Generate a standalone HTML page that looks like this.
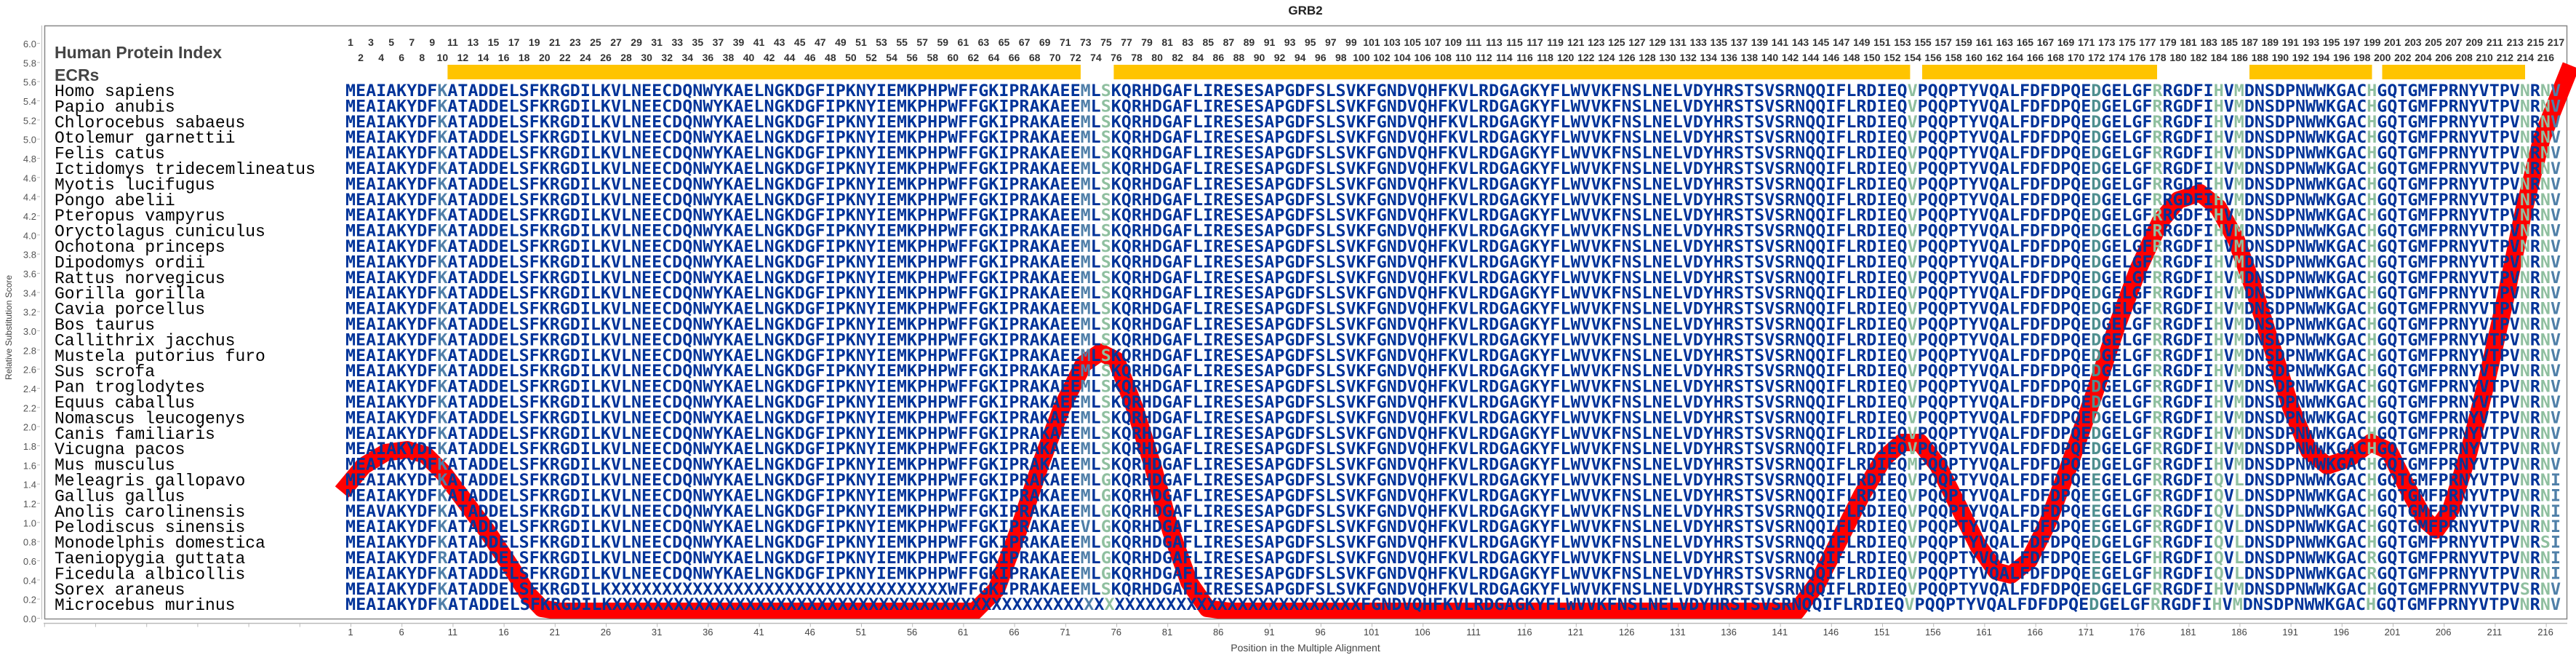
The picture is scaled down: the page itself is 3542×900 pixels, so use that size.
<!DOCTYPE html>
<html><head><meta charset="utf-8"><style>
body{margin:0;width:3542px;height:900px;background:#fff;overflow:hidden;position:relative;font-family:"Liberation Sans",sans-serif}
svg{position:absolute;left:0;top:0}
.nums{position:absolute;display:flex;font:bold 14px "Liberation Sans",sans-serif;color:#333;white-space:nowrap}
.nums span{width:28.08px;text-align:center;flex:none}
.xl{position:absolute;top:861px;left:446.9px;display:flex;font:13px "Liberation Sans",sans-serif;color:#444}
.xl span{width:70.2px;text-align:center;flex:none}
.seq{font-family:"DejaVu Sans Mono","Liberation Mono",monospace;font-weight:bold;font-size:22px;fill:#003399}
.a{fill:#4f7fa8}.b{fill:#8fbf9f}.c{fill:#4f8f8f}
.sp{font-family:"Liberation Mono",monospace;font-size:23px;fill:#000}
.yt{font-size:13px;fill:#555;text-anchor:end}
</style></head><body>
<svg width="3542" height="900" xmlns="http://www.w3.org/2000/svg">
<text x="1795" y="20" font-size="17" font-weight="bold" text-anchor="middle" fill="#222">GRB2</text>
<rect x="61.5" y="35.5" width="3468" height="815" fill="none" stroke="#888" stroke-width="1.5"/>
<line x1="57.5" y1="35" x2="57.5" y2="851" stroke="#bbb" stroke-width="1"/>
<line x1="53" y1="850" x2="53" y2="59" stroke="#bbb" stroke-width="4" stroke-dasharray="1 25.333"/>
<line x1="60" y1="856.5" x2="3530" y2="856.5" stroke="#bbb" stroke-width="1.5"/>
<line x1="60.8" y1="859" x2="3530" y2="859" stroke="#bbb" stroke-width="5" stroke-dasharray="1 69.2"/>
<g class="yt">
<text x="50" y="855">0.0</text><text x="50" y="828.7">0.2</text><text x="50" y="802.3">0.4</text><text x="50" y="776">0.6</text><text x="50" y="749.7">0.8</text><text x="50" y="723.3">1.0</text><text x="50" y="697">1.2</text><text x="50" y="670.7">1.4</text><text x="50" y="644.3">1.6</text><text x="50" y="618">1.8</text><text x="50" y="591.7">2.0</text><text x="50" y="565.3">2.2</text><text x="50" y="539">2.4</text><text x="50" y="512.7">2.6</text><text x="50" y="486.3">2.8</text><text x="50" y="460">3.0</text><text x="50" y="433.7">3.2</text><text x="50" y="407.3">3.4</text><text x="50" y="381">3.6</text><text x="50" y="354.7">3.8</text><text x="50" y="328.3">4.0</text><text x="50" y="302">4.2</text><text x="50" y="275.7">4.4</text><text x="50" y="249.3">4.6</text><text x="50" y="223">4.8</text><text x="50" y="196.7">5.0</text><text x="50" y="170.3">5.2</text><text x="50" y="144">5.4</text><text x="50" y="117.7">5.6</text><text x="50" y="91.3">5.8</text><text x="50" y="65">6.0</text>
</g>
<text transform="translate(16,450) rotate(-90)" font-size="12" fill="#444" text-anchor="middle">Relative Substitution Score</text>
<text x="1795" y="895" font-size="14" fill="#444" text-anchor="middle">Position in the Multiple Alignment</text>
<text x="75" y="80" font-size="23" font-weight="bold" fill="#444">Human Protein Index</text>
<text x="75" y="111" font-size="23" font-weight="bold" fill="#444">ECRs</text>
<g fill="#ffc400">
<rect x="615.4" y="89" width="870.5" height="20"/>
<rect x="1531.4" y="89" width="1095" height="20"/>
<rect x="2643" y="89" width="323" height="20"/>
<rect x="3093" y="89" width="168.5" height="20"/>
<rect x="3275.5" y="89" width="196.5" height="20"/>
</g>
<defs><clipPath id="cp"><rect x="62" y="36" width="3480" height="814"/></clipPath></defs>
<polyline clip-path="url(#cp)" fill="none" stroke="#ff0000" stroke-width="24" stroke-linejoin="round" points="470,676 500,640 530,622 560,618 585,625 610,650 640,690 670,730 700,775 725,815 745,836 770,840 1340,840 1370,810 1400,730 1430,640 1460,560 1490,500 1513,484 1535,495 1560,560 1585,640 1610,730 1635,800 1660,836 1690,840 2470,840 2500,800 2530,740 2560,680 2590,630 2615,608 2640,608 2665,640 2690,690 2720,750 2745,785 2765,790 2790,770 2815,720 2845,640 2880,540 2910,450 2940,370 2970,305 2995,275 3025,265 3050,285 3075,330 3100,400 3125,480 3150,560 3175,620 3200,640 3230,630 3260,608 3285,620 3310,670 3335,715 3350,728 3370,700 3395,620 3420,520 3445,410 3470,290 3495,190 3535,90"/>
<g class="sp">
<text x="75" y="132">Homo sapiens</text><text x="75" y="153.4">Papio anubis</text><text x="75" y="174.8">Chlorocebus sabaeus</text><text x="75" y="196.2">Otolemur garnettii</text><text x="75" y="217.6">Felis catus</text><text x="75" y="239">Ictidomys tridecemlineatus</text><text x="75" y="260.4">Myotis lucifugus</text><text x="75" y="281.8">Pongo abelii</text><text x="75" y="303.2">Pteropus vampyrus</text><text x="75" y="324.6">Oryctolagus cuniculus</text><text x="75" y="346">Ochotona princeps</text><text x="75" y="367.4">Dipodomys ordii</text><text x="75" y="388.8">Rattus norvegicus</text><text x="75" y="410.2">Gorilla gorilla</text><text x="75" y="431.6">Cavia porcellus</text><text x="75" y="453">Bos taurus</text><text x="75" y="474.4">Callithrix jacchus</text><text x="75" y="495.8">Mustela putorius furo</text><text x="75" y="517.2">Sus scrofa</text><text x="75" y="538.6">Pan troglodytes</text><text x="75" y="560">Equus caballus</text><text x="75" y="581.4">Nomascus leucogenys</text><text x="75" y="602.8">Canis familiaris</text><text x="75" y="624.2">Vicugna pacos</text><text x="75" y="645.6">Mus musculus</text><text x="75" y="667">Meleagris gallopavo</text><text x="75" y="688.4">Gallus gallus</text><text x="75" y="709.8">Anolis carolinensis</text><text x="75" y="731.2">Pelodiscus sinensis</text><text x="75" y="752.6">Monodelphis domestica</text><text x="75" y="774">Taeniopygia guttata</text><text x="75" y="795.4">Ficedula albicollis</text><text x="75" y="816.8">Sorex araneus</text><text x="75" y="838.2">Microcebus murinus</text>
</g>
<g class="seq">
<text x="475" y="132" textLength="3046" lengthAdjust="spacingAndGlyphs">MEAIAKYDF<tspan class="a">K</tspan>ATADDELSFKRGDILKVLNEECDQNWYKAELNGKDGFIPKNYIEMKPHPWFFGKIPRAKAEE<tspan class="a">M</tspan>L<tspan class="b">S</tspan>KQRHDGAFLIRESESAPGDFSLSVKFGNDVQHFKVLRDGAGKYFLWVVKFNSLNELVDYHRSTSVSRNQQIFLRDIEQ<tspan class="b">V</tspan>PQQPTYVQALFDFDPQE<tspan class="c">D</tspan>GELGF<tspan class="b">R</tspan>RGDFI<tspan class="b">H</tspan>V<tspan class="b">M</tspan>DNSDPNWWKGAC<tspan class="b">H</tspan>GQTGMFPRNYVTPV<tspan class="b">N</tspan>R<tspan class="b">N</tspan><tspan class="a">V</tspan></text>
<text x="475" y="153.4" textLength="3046" lengthAdjust="spacingAndGlyphs">MEAIAKYDF<tspan class="a">K</tspan>ATADDELSFKRGDILKVLNEECDQNWYKAELNGKDGFIPKNYIEMKPHPWFFGKIPRAKAEE<tspan class="a">M</tspan>L<tspan class="b">S</tspan>KQRHDGAFLIRESESAPGDFSLSVKFGNDVQHFKVLRDGAGKYFLWVVKFNSLNELVDYHRSTSVSRNQQIFLRDIEQ<tspan class="b">V</tspan>PQQPTYVQALFDFDPQE<tspan class="c">D</tspan>GELGF<tspan class="b">R</tspan>RGDFI<tspan class="b">H</tspan>V<tspan class="b">M</tspan>DNSDPNWWKGAC<tspan class="b">H</tspan>GQTGMFPRNYVTPV<tspan class="b">N</tspan>R<tspan class="b">N</tspan><tspan class="a">V</tspan></text>
<text x="475" y="174.8" textLength="3046" lengthAdjust="spacingAndGlyphs">MEAIAKYDF<tspan class="a">K</tspan>ATADDELSFKRGDILKVLNEECDQNWYKAELNGKDGFIPKNYIEMKPHPWFFGKIPRAKAEE<tspan class="a">M</tspan>L<tspan class="b">S</tspan>KQRHDGAFLIRESESAPGDFSLSVKFGNDVQHFKVLRDGAGKYFLWVVKFNSLNELVDYHRSTSVSRNQQIFLRDIEQ<tspan class="b">V</tspan>PQQPTYVQALFDFDPQE<tspan class="c">D</tspan>GELGF<tspan class="b">R</tspan>RGDFI<tspan class="b">H</tspan>V<tspan class="b">M</tspan>DNSDPNWWKGAC<tspan class="b">H</tspan>GQTGMFPRNYVTPV<tspan class="b">N</tspan>R<tspan class="b">N</tspan><tspan class="a">V</tspan></text>
<text x="475" y="196.2" textLength="3046" lengthAdjust="spacingAndGlyphs">MEAIAKYDF<tspan class="a">K</tspan>ATADDELSFKRGDILKVLNEECDQNWYKAELNGKDGFIPKNYIEMKPHPWFFGKIPRAKAEE<tspan class="a">M</tspan>L<tspan class="b">S</tspan>KQRHDGAFLIRESESAPGDFSLSVKFGNDVQHFKVLRDGAGKYFLWVVKFNSLNELVDYHRSTSVSRNQQIFLRDIEQ<tspan class="b">V</tspan>PQQPTYVQALFDFDPQE<tspan class="c">D</tspan>GELGF<tspan class="b">R</tspan>RGDFI<tspan class="b">H</tspan>V<tspan class="b">M</tspan>DNSDPNWWKGAC<tspan class="b">H</tspan>GQTGMFPRNYVTPV<tspan class="b">N</tspan>R<tspan class="b">N</tspan><tspan class="a">V</tspan></text>
<text x="475" y="217.6" textLength="3046" lengthAdjust="spacingAndGlyphs">MEAIAKYDF<tspan class="a">K</tspan>ATADDELSFKRGDILKVLNEECDQNWYKAELNGKDGFIPKNYIEMKPHPWFFGKIPRAKAEE<tspan class="a">M</tspan>L<tspan class="b">S</tspan>KQRHDGAFLIRESESAPGDFSLSVKFGNDVQHFKVLRDGAGKYFLWVVKFNSLNELVDYHRSTSVSRNQQIFLRDIEQ<tspan class="b">V</tspan>PQQPTYVQALFDFDPQE<tspan class="c">D</tspan>GELGF<tspan class="b">R</tspan>RGDFI<tspan class="b">H</tspan>V<tspan class="b">M</tspan>DNSDPNWWKGAC<tspan class="b">H</tspan>GQTGMFPRNYVTPV<tspan class="b">N</tspan>R<tspan class="b">N</tspan><tspan class="a">V</tspan></text>
<text x="475" y="239" textLength="3046" lengthAdjust="spacingAndGlyphs">MEAIAKYDF<tspan class="a">K</tspan>ATADDELSFKRGDILKVLNEECDQNWYKAELNGKDGFIPKNYIEMKPHPWFFGKIPRAKAEE<tspan class="a">M</tspan>L<tspan class="b">S</tspan>KQRHDGAFLIRESESAPGDFSLSVKFGNDVQHFKVLRDGAGKYFLWVVKFNSLNELVDYHRSTSVSRNQQIFLRDIEQ<tspan class="b">V</tspan>PQQPTYVQALFDFDPQE<tspan class="c">D</tspan>GELGF<tspan class="b">R</tspan>RGDFI<tspan class="b">H</tspan>V<tspan class="b">M</tspan>DNSDPNWWKGAC<tspan class="b">H</tspan>GQTGMFPRNYVTPV<tspan class="b">N</tspan>R<tspan class="b">N</tspan><tspan class="a">V</tspan></text>
<text x="475" y="260.4" textLength="3046" lengthAdjust="spacingAndGlyphs">MEAIAKYDF<tspan class="a">K</tspan>ATADDELSFKRGDILKVLNEECDQNWYKAELNGKDGFIPKNYIEMKPHPWFFGKIPRAKAEE<tspan class="a">M</tspan>L<tspan class="b">S</tspan>KQRHDGAFLIRESESAPGDFSLSVKFGNDVQHFKVLRDGAGKYFLWVVKFNSLNELVDYHRSTSVSRNQQIFLRDIEQ<tspan class="b">V</tspan>PQQPTYVQALFDFDPQE<tspan class="c">D</tspan>GELGF<tspan class="b">R</tspan>RGDFI<tspan class="b">H</tspan>V<tspan class="b">M</tspan>DNSDPNWWKGAC<tspan class="b">H</tspan>GQTGMFPRNYVTPV<tspan class="b">N</tspan>R<tspan class="b">N</tspan><tspan class="a">V</tspan></text>
<text x="475" y="281.8" textLength="3046" lengthAdjust="spacingAndGlyphs">MEAIAKYDF<tspan class="a">K</tspan>ATADDELSFKRGDILKVLNEECDQNWYKAELNGKDGFIPKNYIEMKPHPWFFGKIPRAKAEE<tspan class="a">M</tspan>L<tspan class="b">S</tspan>KQRHDGAFLIRESESAPGDFSLSVKFGNDVQHFKVLRDGAGKYFLWVVKFNSLNELVDYHRSTSVSRNQQIFLRDIEQ<tspan class="b">V</tspan>PQQPTYVQALFDFDPQE<tspan class="c">D</tspan>GELGF<tspan class="b">R</tspan>RGDFI<tspan class="b">H</tspan>V<tspan class="b">M</tspan>DNSDPNWWKGAC<tspan class="b">H</tspan>GQTGMFPRNYVTPV<tspan class="b">N</tspan>R<tspan class="b">N</tspan><tspan class="a">V</tspan></text>
<text x="475" y="303.2" textLength="3046" lengthAdjust="spacingAndGlyphs">MEAIAKYDF<tspan class="a">K</tspan>ATADDELSFKRGDILKVLNEECDQNWYKAELNGKDGFIPKNYIEMKPHPWFFGKIPRAKAEE<tspan class="a">M</tspan>L<tspan class="b">S</tspan>KQRHDGAFLIRESESAPGDFSLSVKFGNDVQHFKVLRDGAGKYFLWVVKFNSLNELVDYHRSTSVSRNQQIFLRDIEQ<tspan class="b">V</tspan>PQQPTYVQALFDFDPQE<tspan class="c">D</tspan>GELGF<tspan class="b">R</tspan>RGDFI<tspan class="b">H</tspan>V<tspan class="b">M</tspan>DNSDPNWWKGAC<tspan class="b">H</tspan>GQTGMFPRNYVTPV<tspan class="b">N</tspan>R<tspan class="b">N</tspan><tspan class="a">V</tspan></text>
<text x="475" y="324.6" textLength="3046" lengthAdjust="spacingAndGlyphs">MEAIAKYDF<tspan class="a">K</tspan>ATADDELSFKRGDILKVLNEECDQNWYKAELNGKDGFIPKNYIEMKPHPWFFGKIPRAKAEE<tspan class="a">M</tspan>L<tspan class="b">S</tspan>KQRHDGAFLIRESESAPGDFSLSVKFGNDVQHFKVLRDGAGKYFLWVVKFNSLNELVDYHRSTSVSRNQQIFLRDIEQ<tspan class="b">V</tspan>PQQPTYVQALFDFDPQE<tspan class="c">D</tspan>GELGF<tspan class="b">R</tspan>RGDFI<tspan class="b">H</tspan>V<tspan class="b">M</tspan>DNSDPNWWKGAC<tspan class="b">H</tspan>GQTGMFPRNYVTPV<tspan class="b">N</tspan>R<tspan class="b">N</tspan><tspan class="a">V</tspan></text>
<text x="475" y="346" textLength="3046" lengthAdjust="spacingAndGlyphs">MEAIAKYDF<tspan class="a">K</tspan>ATADDELSFKRGDILKVLNEECDQNWYKAELNGKDGFIPKNYIEMKPHPWFFGKIPRAKAEE<tspan class="a">M</tspan>L<tspan class="b">S</tspan>KQRHDGAFLIRESESAPGDFSLSVKFGNDVQHFKVLRDGAGKYFLWVVKFNSLNELVDYHRSTSVSRNQQIFLRDIEQ<tspan class="b">V</tspan>PQQPTYVQALFDFDPQE<tspan class="c">D</tspan>GELGF<tspan class="b">R</tspan>RGDFI<tspan class="b">H</tspan>V<tspan class="b">M</tspan>DNSDPNWWKGAC<tspan class="b">H</tspan>GQTGMFPRNYVTPV<tspan class="b">N</tspan>R<tspan class="b">N</tspan><tspan class="a">V</tspan></text>
<text x="475" y="367.4" textLength="3046" lengthAdjust="spacingAndGlyphs">MEAIAKYDF<tspan class="a">K</tspan>ATADDELSFKRGDILKVLNEECDQNWYKAELNGKDGFIPKNYIEMKPHPWFFGKIPRAKAEE<tspan class="a">M</tspan>L<tspan class="b">S</tspan>KQRHDGAFLIRESESAPGDFSLSVKFGNDVQHFKVLRDGAGKYFLWVVKFNSLNELVDYHRSTSVSRNQQIFLRDIEQ<tspan class="b">V</tspan>PQQPTYVQALFDFDPQE<tspan class="c">D</tspan>GELGF<tspan class="b">R</tspan>RGDFI<tspan class="b">H</tspan>V<tspan class="b">M</tspan>DNSDPNWWKGAC<tspan class="b">H</tspan>GQTGMFPRNYVTPV<tspan class="b">N</tspan>R<tspan class="b">N</tspan><tspan class="a">V</tspan></text>
<text x="475" y="388.8" textLength="3046" lengthAdjust="spacingAndGlyphs">MEAIAKYDF<tspan class="a">K</tspan>ATADDELSFKRGDILKVLNEECDQNWYKAELNGKDGFIPKNYIEMKPHPWFFGKIPRAKAEE<tspan class="a">M</tspan>L<tspan class="b">S</tspan>KQRHDGAFLIRESESAPGDFSLSVKFGNDVQHFKVLRDGAGKYFLWVVKFNSLNELVDYHRSTSVSRNQQIFLRDIEQ<tspan class="b">V</tspan>PQQPTYVQALFDFDPQE<tspan class="c">D</tspan>GELGF<tspan class="b">R</tspan>RGDFI<tspan class="b">H</tspan>V<tspan class="b">M</tspan>DNSDPNWWKGAC<tspan class="b">H</tspan>GQTGMFPRNYVTPV<tspan class="b">N</tspan>R<tspan class="b">N</tspan><tspan class="a">V</tspan></text>
<text x="475" y="410.2" textLength="3046" lengthAdjust="spacingAndGlyphs">MEAIAKYDF<tspan class="a">K</tspan>ATADDELSFKRGDILKVLNEECDQNWYKAELNGKDGFIPKNYIEMKPHPWFFGKIPRAKAEE<tspan class="a">M</tspan>L<tspan class="b">S</tspan>KQRHDGAFLIRESESAPGDFSLSVKFGNDVQHFKVLRDGAGKYFLWVVKFNSLNELVDYHRSTSVSRNQQIFLRDIEQ<tspan class="b">V</tspan>PQQPTYVQALFDFDPQE<tspan class="c">D</tspan>GELGF<tspan class="b">R</tspan>RGDFI<tspan class="b">H</tspan>V<tspan class="b">M</tspan>DNSDPNWWKGAC<tspan class="b">H</tspan>GQTGMFPRNYVTPV<tspan class="b">N</tspan>R<tspan class="b">N</tspan><tspan class="a">V</tspan></text>
<text x="475" y="431.6" textLength="3046" lengthAdjust="spacingAndGlyphs">MEAIAKYDF<tspan class="a">K</tspan>ATADDELSFKRGDILKVLNEECDQNWYKAELNGKDGFIPKNYIEMKPHPWFFGKIPRAKAEE<tspan class="a">M</tspan>L<tspan class="b">S</tspan>KQRHDGAFLIRESESAPGDFSLSVKFGNDVQHFKVLRDGAGKYFLWVVKFNSLNELVDYHRSTSVSRNQQIFLRDIEQ<tspan class="b">V</tspan>PQQPTYVQALFDFDPQE<tspan class="c">D</tspan>GELGF<tspan class="b">R</tspan>RGDFI<tspan class="b">H</tspan>V<tspan class="b">M</tspan>DNSDPNWWKGAC<tspan class="b">H</tspan>GQTGMFPRNYVTPV<tspan class="b">N</tspan>R<tspan class="b">N</tspan><tspan class="a">V</tspan></text>
<text x="475" y="453" textLength="3046" lengthAdjust="spacingAndGlyphs">MEAIAKYDF<tspan class="a">K</tspan>ATADDELSFKRGDILKVLNEECDQNWYKAELNGKDGFIPKNYIEMKPHPWFFGKIPRAKAEE<tspan class="a">M</tspan>L<tspan class="b">S</tspan>KQRHDGAFLIRESESAPGDFSLSVKFGNDVQHFKVLRDGAGKYFLWVVKFNSLNELVDYHRSTSVSRNQQIFLRDIEQ<tspan class="b">V</tspan>PQQPTYVQALFDFDPQE<tspan class="c">D</tspan>GELGF<tspan class="b">R</tspan>RGDFI<tspan class="b">H</tspan>V<tspan class="b">M</tspan>DNSDPNWWKGAC<tspan class="b">H</tspan>GQTGMFPRNYVTPV<tspan class="b">N</tspan>R<tspan class="b">N</tspan><tspan class="a">V</tspan></text>
<text x="475" y="474.4" textLength="3046" lengthAdjust="spacingAndGlyphs">MEAIAKYDF<tspan class="a">K</tspan>ATADDELSFKRGDILKVLNEECDQNWYKAELNGKDGFIPKNYIEMKPHPWFFGKIPRAKAEE<tspan class="a">M</tspan>L<tspan class="b">S</tspan>KQRHDGAFLIRESESAPGDFSLSVKFGNDVQHFKVLRDGAGKYFLWVVKFNSLNELVDYHRSTSVSRNQQIFLRDIEQ<tspan class="b">V</tspan>PQQPTYVQALFDFDPQE<tspan class="c">D</tspan>GELGF<tspan class="b">R</tspan>RGDFI<tspan class="b">H</tspan>V<tspan class="b">M</tspan>DNSDPNWWKGAC<tspan class="b">H</tspan>GQTGMFPRNYVTPV<tspan class="b">N</tspan>R<tspan class="b">N</tspan><tspan class="a">V</tspan></text>
<text x="475" y="495.8" textLength="3046" lengthAdjust="spacingAndGlyphs">MEAIAKYDF<tspan class="a">K</tspan>ATADDELSFKRGDILKVLNEECDQNWYKAELNGKDGFIPKNYIEMKPHPWFFGKIPRAKAEE<tspan class="a">M</tspan>L<tspan class="b">S</tspan>KQRHDGAFLIRESESAPGDFSLSVKFGNDVQHFKVLRDGAGKYFLWVVKFNSLNELVDYHRSTSVSRNQQIFLRDIEQ<tspan class="b">V</tspan>PQQPTYVQALFDFDPQE<tspan class="c">D</tspan>GELGF<tspan class="b">R</tspan>RGDFI<tspan class="b">H</tspan>V<tspan class="b">M</tspan>DNSDPNWWKGAC<tspan class="b">H</tspan>GQTGMFPRNYVTPV<tspan class="b">N</tspan>R<tspan class="b">N</tspan><tspan class="a">V</tspan></text>
<text x="475" y="517.2" textLength="3046" lengthAdjust="spacingAndGlyphs">MEAIAKYDF<tspan class="a">K</tspan>ATADDELSFKRGDILKVLNEECDQNWYKAELNGKDGFIPKNYIEMKPHPWFFGKIPRAKAEE<tspan class="a">M</tspan>L<tspan class="b">S</tspan>KQRHDGAFLIRESESAPGDFSLSVKFGNDVQHFKVLRDGAGKYFLWVVKFNSLNELVDYHRSTSVSRNQQIFLRDIEQ<tspan class="b">V</tspan>PQQPTYVQALFDFDPQE<tspan class="c">D</tspan>GELGF<tspan class="b">R</tspan>RGDFI<tspan class="b">H</tspan>V<tspan class="b">M</tspan>DNSDPNWWKGAC<tspan class="b">H</tspan>GQTGMFPRNYVTPV<tspan class="b">N</tspan>R<tspan class="b">N</tspan><tspan class="a">V</tspan></text>
<text x="475" y="538.6" textLength="3046" lengthAdjust="spacingAndGlyphs">MEAIAKYDF<tspan class="a">K</tspan>ATADDELSFKRGDILKVLNEECDQNWYKAELNGKDGFIPKNYIEMKPHPWFFGKIPRAKAEE<tspan class="a">M</tspan>L<tspan class="b">S</tspan>KQRHDGAFLIRESESAPGDFSLSVKFGNDVQHFKVLRDGAGKYFLWVVKFNSLNELVDYHRSTSVSRNQQIFLRDIEQ<tspan class="b">V</tspan>PQQPTYVQALFDFDPQE<tspan class="c">D</tspan>GELGF<tspan class="b">R</tspan>RGDFI<tspan class="b">H</tspan>V<tspan class="b">M</tspan>DNSDPNWWKGAC<tspan class="b">H</tspan>GQTGMFPRNYVTPV<tspan class="b">N</tspan>R<tspan class="b">N</tspan><tspan class="a">V</tspan></text>
<text x="475" y="560" textLength="3046" lengthAdjust="spacingAndGlyphs">MEAIAKYDF<tspan class="a">K</tspan>ATADDELSFKRGDILKVLNEECDQNWYKAELNGKDGFIPKNYIEMKPHPWFFGKIPRAKAEE<tspan class="a">M</tspan>L<tspan class="b">S</tspan>KQRHDGAFLIRESESAPGDFSLSVKFGNDVQHFKVLRDGAGKYFLWVVKFNSLNELVDYHRSTSVSRNQQIFLRDIEQ<tspan class="b">V</tspan>PQQPTYVQALFDFDPQE<tspan class="c">D</tspan>GELGF<tspan class="b">R</tspan>RGDFI<tspan class="b">H</tspan>V<tspan class="b">M</tspan>DNSDPNWWKGAC<tspan class="b">H</tspan>GQTGMFPRNYVTPV<tspan class="b">N</tspan>R<tspan class="b">N</tspan><tspan class="a">V</tspan></text>
<text x="475" y="581.4" textLength="3046" lengthAdjust="spacingAndGlyphs">MEAIAKYDF<tspan class="a">K</tspan>ATADDELSFKRGDILKVLNEECDQNWYKAELNGKDGFIPKNYIEMKPHPWFFGKIPRAKAEE<tspan class="a">M</tspan>L<tspan class="b">S</tspan>KQRHDGAFLIRESESAPGDFSLSVKFGNDVQHFKVLRDGAGKYFLWVVKFNSLNELVDYHRSTSVSRNQQIFLRDIEQ<tspan class="b">V</tspan>PQQPTYVQALFDFDPQE<tspan class="c">D</tspan>GELGF<tspan class="b">R</tspan>RGDFI<tspan class="b">H</tspan>V<tspan class="b">M</tspan>DNSDPNWWKGAC<tspan class="b">H</tspan>GQTGMFPRNYVTPV<tspan class="b">N</tspan>R<tspan class="b">N</tspan><tspan class="a">V</tspan></text>
<text x="475" y="602.8" textLength="3046" lengthAdjust="spacingAndGlyphs">MEAIAKYDF<tspan class="a">K</tspan>ATADDELSFKRGDILKVLNEECDQNWYKAELNGKDGFIPKNYIEMKPHPWFFGKIPRAKAEE<tspan class="a">M</tspan>L<tspan class="b">S</tspan>KQRHDGAFLIRESESAPGDFSLSVKFGNDVQHFKVLRDGAGKYFLWVVKFNSLNELVDYHRSTSVSRNQQIFLRDIEQ<tspan class="b">V</tspan>PQQPTYVQALFDFDPQE<tspan class="c">D</tspan>GELGF<tspan class="b">R</tspan>RGDFI<tspan class="b">H</tspan>V<tspan class="b">M</tspan>DNSDPNWWKGAC<tspan class="b">H</tspan>GQTGMFPRNYVTPV<tspan class="b">N</tspan>R<tspan class="b">N</tspan><tspan class="a">V</tspan></text>
<text x="475" y="624.2" textLength="3046" lengthAdjust="spacingAndGlyphs">MEAIAKYDF<tspan class="a">K</tspan>ATADDELSFKRGDILKVLNEECDQNWYKAELNGKDGFIPKNYIEMKPHPWFFGKIPRAKAEE<tspan class="a">M</tspan>L<tspan class="b">S</tspan>KQRHDGAFLIRESESAPGDFSLSVKFGNDVQHFKVLRDGAGKYFLWVVKFNSLNELVDYHRSTSVSRNQQIFLRDIEQ<tspan class="b">V</tspan>PQQPTYVQALFDFDPQE<tspan class="c">D</tspan>GELGF<tspan class="b">R</tspan>RGDFI<tspan class="b">H</tspan>V<tspan class="b">M</tspan>DNSDPNWWKGAC<tspan class="b">H</tspan>GQTGMFPRNYVTPV<tspan class="b">N</tspan>R<tspan class="b">N</tspan><tspan class="a">V</tspan></text>
<text x="475" y="645.6" textLength="3046" lengthAdjust="spacingAndGlyphs">MEAIAKYDF<tspan class="a">K</tspan>ATADDELSFKRGDILKVLNEECDQNWYKAELNGKDGFIPKNYIEMKPHPWFFGKIPRAKAEE<tspan class="a">M</tspan>L<tspan class="b">S</tspan>KQRHDGAFLIRESESAPGDFSLSVKFGNDVQHFKVLRDGAGKYFLWVVKFNSLNELVDYHRSTSVSRNQQIFLRDIEQ<tspan class="b">M</tspan>PQQPTYVQALFDFDPQE<tspan class="c">D</tspan>GELGF<tspan class="b">R</tspan>RGDFI<tspan class="b">H</tspan>V<tspan class="b">M</tspan>DNSDPNWWKGAC<tspan class="b">H</tspan>GQTGMFPRNYVTPV<tspan class="b">N</tspan>R<tspan class="b">N</tspan><tspan class="a">V</tspan></text>
<text x="475" y="667" textLength="3046" lengthAdjust="spacingAndGlyphs">MEAIAKYDF<tspan class="a">K</tspan>ATADDELSFKRGDILKVLNEECDQNWYKAELNGKDGFIPKNYIEMKPHPWFFGKIPRAKAEE<tspan class="a">M</tspan>L<tspan class="b">G</tspan>KQRHDGAFLIRESESAPGDFSLSVKFGNDVQHFKVLRDGAGKYFLWVVKFNSLNELVDYHRSTSVSRNQQIFLRDIEQ<tspan class="b">V</tspan>PQQPTYVQALFDFDPQE<tspan class="c">E</tspan>GELGF<tspan class="b">R</tspan>RGDFI<tspan class="b">Q</tspan>V<tspan class="b">L</tspan>DNSDPNWWKGAC<tspan class="b">H</tspan>GQTGMFPRNYVTPV<tspan class="b">N</tspan>R<tspan class="b">N</tspan><tspan class="a">I</tspan></text>
<text x="475" y="688.4" textLength="3046" lengthAdjust="spacingAndGlyphs">MEAIAKYDF<tspan class="a">K</tspan>ATADDELSFKRGDILKVLNEECDQNWYKAELNGKDGFIPKNYIEMKPHPWFFGKIPRAKAEE<tspan class="a">M</tspan>L<tspan class="b">G</tspan>KQRHDGAFLIRESESAPGDFSLSVKFGNDVQHFKVLRDGAGKYFLWVVKFNSLNELVDYHRSTSVSRNQQIFLRDIEQ<tspan class="b">V</tspan>PQQPTYVQALFDFDPQE<tspan class="c">E</tspan>GELGF<tspan class="b">R</tspan>RGDFI<tspan class="b">Q</tspan>V<tspan class="b">L</tspan>DNSDPNWWKGAC<tspan class="b">H</tspan>GQTGMFPRNYVTPV<tspan class="b">N</tspan>R<tspan class="b">N</tspan><tspan class="a">I</tspan></text>
<text x="475" y="709.8" textLength="3046" lengthAdjust="spacingAndGlyphs">MEAVAKYDF<tspan class="a">K</tspan>ATADDELSFKRGDILKVLNEECDQNWYKAELNGKDGFIPKNYIEMKPHPWFFGKIPRAKAEE<tspan class="a">M</tspan>L<tspan class="b">G</tspan>KQRHDGAFLIRESESAPGDFSLSVKFGNDVQHFKVLRDGAGKYFLWVVKFNSLNELVDYHRSTSVSRNQQIFLRDIEQ<tspan class="b">V</tspan>PQQPTYVQALFDFDPQE<tspan class="c">E</tspan>GELGF<tspan class="b">R</tspan>RGDFI<tspan class="b">Q</tspan>V<tspan class="b">L</tspan>DNSDPNWWKGAC<tspan class="b">H</tspan>GQTGMFPRNYVTPV<tspan class="b">N</tspan>R<tspan class="b">N</tspan><tspan class="a">I</tspan></text>
<text x="475" y="731.2" textLength="3046" lengthAdjust="spacingAndGlyphs">MEAIAKYDF<tspan class="a">K</tspan>ATADDELSFKRGDILKVLNEECDQNWYKAELNGKDGFIPKNYIEMKPHPWFFGKIPRAKAEE<tspan class="a">V</tspan>L<tspan class="b">G</tspan>KQRHDGAFLIRESESAPGDFSLSVKFGNDVQHFKVLRDGAGKYFLWVVKFNSLNELVDYHRSTSVSRNQQIFLRDIEQ<tspan class="b">V</tspan>PQQPTYVQALFDFDPQE<tspan class="c">E</tspan>GELGF<tspan class="b">R</tspan>RGDFI<tspan class="b">Q</tspan>V<tspan class="b">L</tspan>DNSDPNWWKGAC<tspan class="b">H</tspan>GQTGMFPRNYVTPV<tspan class="b">N</tspan>R<tspan class="b">N</tspan><tspan class="a">I</tspan></text>
<text x="475" y="752.6" textLength="3046" lengthAdjust="spacingAndGlyphs">MEAIAKYDF<tspan class="a">K</tspan>ATADDELSFKRGDILKVLNEECDQNWYKAELNGKDGFIPKNYIEMKPHPWFFGKIPRAKAEE<tspan class="a">M</tspan>L<tspan class="b">G</tspan>KQRHDGAFLIRESESAPGDFSLSVKFGNDVQHFKVLRDGAGKYFLWVVKFNSLNELVDYHRSTSVSRNQQIFLRDIEQ<tspan class="b">V</tspan>PQQPTYVQALFDFDPQE<tspan class="c">D</tspan>GELGF<tspan class="b">R</tspan>RGDFI<tspan class="b">Q</tspan>V<tspan class="b">L</tspan>DNSDPNWWKGAC<tspan class="b">H</tspan>GQTGMFPRNYVTPV<tspan class="b">N</tspan>R<tspan class="b">S</tspan><tspan class="a">I</tspan></text>
<text x="475" y="774" textLength="3046" lengthAdjust="spacingAndGlyphs">MEAIAKYDF<tspan class="a">R</tspan>ATADDELSFKRGDILKVLNEECDQNWYKAELNGKDGFIPKNYIEMKPHPWFFGKIPRAKAEE<tspan class="a">M</tspan>L<tspan class="b">G</tspan>KQRHDGAFLIRESESAPGDFSLSVKFGNDVQHFKVLRDGAGKYFLWVVKFNSLNELVDYHRSTSVSRNQQIFLRDIEQ<tspan class="b">V</tspan>PQQPTYVQALFDFDPQE<tspan class="c">E</tspan>GELGF<tspan class="b">H</tspan>RGDFI<tspan class="b">Q</tspan>V<tspan class="b">L</tspan>DNSDPNWWKGAC<tspan class="b">R</tspan>GQTGMFPRNYVTPV<tspan class="b">N</tspan>R<tspan class="b">N</tspan><tspan class="a">I</tspan></text>
<text x="475" y="795.4" textLength="3046" lengthAdjust="spacingAndGlyphs">MEAIAKYDF<tspan class="a">K</tspan>ATADDELSFKRGDILKVLNEECDQNWYKAELNGKDGFIPKNYIEMKPHPWFFGKIPRAKAEE<tspan class="a">M</tspan>L<tspan class="b">G</tspan>KQRHDGAFLIRESESAPGDFSLSVKFGNDVQHFKVLRDGAGKYFLWVVKFNSLNELVDYHRSTSVSRNQQIFLRDIEQ<tspan class="b">V</tspan>PQQPTYVQALFDFDPQE<tspan class="c">E</tspan>GELGF<tspan class="b">H</tspan>RGDFI<tspan class="b">Q</tspan>V<tspan class="b">L</tspan>DNSDPNWWKGAC<tspan class="b">R</tspan>GQTGMFPRNYVTPV<tspan class="b">N</tspan>R<tspan class="b">N</tspan><tspan class="a">I</tspan></text>
<text x="475" y="816.8" textLength="3046" lengthAdjust="spacingAndGlyphs">MEAIAKYDF<tspan class="a">K</tspan>ATADDELSFKRGDILKXXXXXXXXXXXXXXXXXXXXXXXXXXXXXXXXXWFFGKIPRAKAEE<tspan class="a">M</tspan>L<tspan class="b">S</tspan>KQRHDGAFLIRESESAPGDFSLSVKFGNDVQHFKVLRDGAGKYFLWVVKFNSLNELVDYHRSTSVSRNQQIFLRDIEQ<tspan class="b">V</tspan>PQQPTYVQALFDFDPQE<tspan class="c">D</tspan>GELGF<tspan class="b">R</tspan>RGDFI<tspan class="b">H</tspan>V<tspan class="b">M</tspan>DNSDPNWWKGAC<tspan class="b">H</tspan>GQTGMFPRNYVTPV<tspan class="b">S</tspan>R<tspan class="b">N</tspan><tspan class="a">V</tspan></text>
<text x="475" y="838.2" textLength="3046" lengthAdjust="spacingAndGlyphs">MEAIAKYDF<tspan class="a">K</tspan>ATADDELSFKRGDILKXXXXXXXXXXXXXXXXXXXXXXXXXXXXXXXXXXXXXXXXXXXXXX<tspan class="a">X</tspan>X<tspan class="b">X</tspan>XXXXXXXXXXXXXXXXXXXXXXXXFGNDVQHFKVLRDGAGKYFLWVVKFNSLNELVDYHRSTSVSRNQQIFLRDIEQ<tspan class="b">V</tspan>PQQPTYVQALFDFDPQE<tspan class="c">D</tspan>GELGF<tspan class="b">R</tspan>RGDFI<tspan class="b">H</tspan>V<tspan class="b">M</tspan>DNSDPNWWKGAC<tspan class="b">H</tspan>GQTGMFPRNYVTPV<tspan class="b">N</tspan>R<tspan class="b">N</tspan><tspan class="a">V</tspan></text>
</g>
</svg>
<div class="nums" style="left:467.96px;top:50px"><span>1</span><span>3</span><span>5</span><span>7</span><span>9</span><span>11</span><span>13</span><span>15</span><span>17</span><span>19</span><span>21</span><span>23</span><span>25</span><span>27</span><span>29</span><span>31</span><span>33</span><span>35</span><span>37</span><span>39</span><span>41</span><span>43</span><span>45</span><span>47</span><span>49</span><span>51</span><span>53</span><span>55</span><span>57</span><span>59</span><span>61</span><span>63</span><span>65</span><span>67</span><span>69</span><span>71</span><span>73</span><span>75</span><span>77</span><span>79</span><span>81</span><span>83</span><span>85</span><span>87</span><span>89</span><span>91</span><span>93</span><span>95</span><span>97</span><span>99</span><span>101</span><span>103</span><span>105</span><span>107</span><span>109</span><span>111</span><span>113</span><span>115</span><span>117</span><span>119</span><span>121</span><span>123</span><span>125</span><span>127</span><span>129</span><span>131</span><span>133</span><span>135</span><span>137</span><span>139</span><span>141</span><span>143</span><span>145</span><span>147</span><span>149</span><span>151</span><span>153</span><span>155</span><span>157</span><span>159</span><span>161</span><span>163</span><span>165</span><span>167</span><span>169</span><span>171</span><span>173</span><span>175</span><span>177</span><span>179</span><span>181</span><span>183</span><span>185</span><span>187</span><span>189</span><span>191</span><span>193</span><span>195</span><span>197</span><span>199</span><span>201</span><span>203</span><span>205</span><span>207</span><span>209</span><span>211</span><span>213</span><span>215</span><span>217</span></div>
<div class="nums" style="left:482px;top:71px"><span>2</span><span>4</span><span>6</span><span>8</span><span>10</span><span>12</span><span>14</span><span>16</span><span>18</span><span>20</span><span>22</span><span>24</span><span>26</span><span>28</span><span>30</span><span>32</span><span>34</span><span>36</span><span>38</span><span>40</span><span>42</span><span>44</span><span>46</span><span>48</span><span>50</span><span>52</span><span>54</span><span>56</span><span>58</span><span>60</span><span>62</span><span>64</span><span>66</span><span>68</span><span>70</span><span>72</span><span>74</span><span>76</span><span>78</span><span>80</span><span>82</span><span>84</span><span>86</span><span>88</span><span>90</span><span>92</span><span>94</span><span>96</span><span>98</span><span>100</span><span>102</span><span>104</span><span>106</span><span>108</span><span>110</span><span>112</span><span>114</span><span>116</span><span>118</span><span>120</span><span>122</span><span>124</span><span>126</span><span>128</span><span>130</span><span>132</span><span>134</span><span>136</span><span>138</span><span>140</span><span>142</span><span>144</span><span>146</span><span>148</span><span>150</span><span>152</span><span>154</span><span>156</span><span>158</span><span>160</span><span>162</span><span>164</span><span>166</span><span>168</span><span>170</span><span>172</span><span>174</span><span>176</span><span>178</span><span>180</span><span>182</span><span>184</span><span>186</span><span>188</span><span>190</span><span>192</span><span>194</span><span>196</span><span>198</span><span>200</span><span>202</span><span>204</span><span>206</span><span>208</span><span>210</span><span>212</span><span>214</span><span>216</span></div>
<div class="xl"><span>1</span><span>6</span><span>11</span><span>16</span><span>21</span><span>26</span><span>31</span><span>36</span><span>41</span><span>46</span><span>51</span><span>56</span><span>61</span><span>66</span><span>71</span><span>76</span><span>81</span><span>86</span><span>91</span><span>96</span><span>101</span><span>106</span><span>111</span><span>116</span><span>121</span><span>126</span><span>131</span><span>136</span><span>141</span><span>146</span><span>151</span><span>156</span><span>161</span><span>166</span><span>171</span><span>176</span><span>181</span><span>186</span><span>191</span><span>196</span><span>201</span><span>206</span><span>211</span><span>216</span></div>
</body></html>
